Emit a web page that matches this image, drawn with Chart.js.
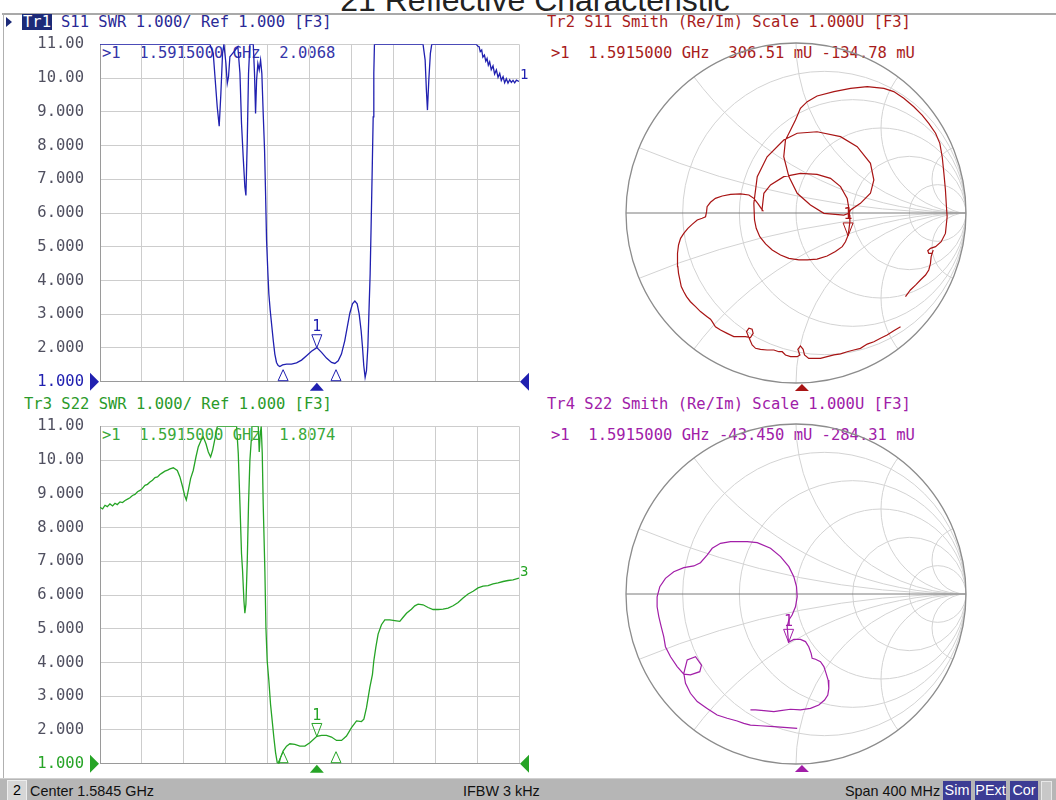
<!DOCTYPE html>
<html>
<head>
<meta charset="utf-8">
<script src="https://cdn.jsdelivr.net/npm/chart.js"></script>
<style>
  body { margin: 0; width: 1056px; height: 800px; position: relative; overflow: hidden; background: #fff; }
  canvas { position: absolute; }
  .m { position: absolute; white-space: pre; font-family: 'DejaVu Sans Mono', monospace; font-size: 15.5px; line-height: 16px; }
  .sb { position: absolute; top: 0; line-height: 22px; font-family: 'Liberation Sans', Arial, sans-serif; font-size: 14.4px; color: #111; white-space: pre; }
  .box { position: absolute; top: 2px; height: 19px; line-height: 19px; text-align: center; font-family: 'Liberation Sans', Arial, sans-serif; font-size: 14.4px; }
</style>
</head>
<body>

<div style="position:absolute;left:535px;top:-16px;transform:translateX(-50%);font-family:'Liberation Sans',Arial,sans-serif;font-size:32px;line-height:32px;color:#222;white-space:pre">21 Reflective Characteristic</div>
<div style="position:absolute;left:2px;top:13px;width:1054px;height:2px;background:#a9a9a9"></div>
<div style="position:absolute;left:3px;top:13px;width:1px;height:765px;background:#b0b0b0"></div>

<!-- trace headers -->
<div style="position:absolute;left:6px;top:17px;width:0;height:0;border-top:5px solid transparent;border-bottom:5px solid transparent;border-left:6px solid #1c2a78"></div>
<div class="m" style="left:22px;top:14px;background:#1c2a78;color:#fff;padding:0 1px">Tr1</div>
<div class="m" style="left:61px;top:14px;color:#2a2a96">S11 SWR 1.000/ Ref 1.000 [F3]</div>
<div class="m" style="left:102px;top:45px;color:#3535a8">&gt;1  1.5915000 GHz  2.0068</div>

<div class="m" style="left:24px;top:396px;color:#2a9a2a">Tr3 S22 SWR 1.000/ Ref 1.000 [F3]</div>
<div class="m" style="left:102px;top:427px;color:#3aa83a">&gt;1  1.5915000 GHz  1.8074</div>

<div class="m" style="left:547px;top:14px;color:#a81c1c">Tr2 S11 Smith (Re/Im) Scale 1.000U [F3]</div>
<div class="m" style="left:551px;top:45px;color:#a81c1c">&gt;1  1.5915000 GHz  306.51 mU -134.78 mU</div>

<div class="m" style="left:547px;top:396px;color:#a020a8">Tr4 S22 Smith (Re/Im) Scale 1.000U [F3]</div>
<div class="m" style="left:551px;top:427px;color:#a020a8">&gt;1  1.5915000 GHz -43.450 mU -284.31 mU</div>

<canvas id="swr1" width="532" height="388" style="left:0;top:19px"></canvas>
<canvas id="swr3" width="532" height="388" style="left:0;top:401px"></canvas>
<canvas id="smith2" width="360" height="360" style="left:616px;top:33px"></canvas>
<canvas id="smith4" width="360" height="360" style="left:616px;top:414px"></canvas>

<!-- status bar -->
<div style="position:absolute;left:0;top:778px;width:1056px;height:22px;background:#b6b6b6;border-top:1px solid #d0d0d0">
  <div class="box" style="left:7px;width:18px;background:#d6d6d6;border:1px solid #eee;top:1px">2</div>
  <div class="sb" style="left:30px;top:1px">Center 1.5845 GHz</div>
  <div class="sb" style="left:463px;top:1px">IFBW 3 kHz</div>
  <div class="sb" style="left:845px;top:1px">Span 400 MHz</div>
  <div class="box" style="left:943px;width:28px;background:#3c3c94;color:#fff">Sim</div>
  <div class="box" style="left:975px;width:31px;background:#3c3c94;color:#fff">PExt</div>
  <div class="box" style="left:1010px;width:28px;background:#3c3c94;color:#fff">Cor</div>
  <div class="box" style="left:1041px;width:9px;background:#c8c8c8;border:1px solid #e8e8e8"></div>
</div>

<script>
// sweep: center 1584.5 MHz, span 400 MHz
const fStart = 1384.5;
const fStop = 1784.5;
const freqGrid = [1384.5, 1424.5, 1464.5, 1504.5, 1544.5, 1584.5, 1624.5, 1664.5, 1704.5, 1744.5, 1784.5];
const swrTicks = [1, 2, 3, 4, 5, 6, 7, 8, 9, 10, 11];
const markerFreq = 1591.5;
const auxFreqs = [1559.3, 1609.8];

// Tr1 S11 SWR (MHz / SWR, clipped at 11 like the analyzer)
const s11Freq = [
  1384.5, 1438.6, 1489.4, 1492.6, 1494.5, 1496.4, 1498.3, 1499.9, 1501.5, 1502.8,
  1504.7, 1506.0, 1507.2, 1508.5, 1511.1, 1513.6, 1516.1, 1518.1, 1519.6, 1521.2,
  1522.8, 1523.8, 1525.1, 1526.3, 1527.6, 1530.8, 1532.0, 1533.0, 1534.0, 1535.2,
  1536.5, 1537.8, 1539.0, 1540.3, 1541.6, 1542.5, 1543.5, 1544.8, 1545.7, 1547.0,
  1548.3, 1549.9, 1551.4, 1553.0, 1554.6, 1556.2, 1558.8, 1562.6, 1567.3, 1572.1,
  1576.9, 1581.7, 1586.4, 1591.5, 1596.0, 1600.7, 1605.5, 1608.7, 1611.9, 1615.0,
  1618.2, 1620.5, 1623.0, 1625.5, 1627.8, 1630.0, 1631.9, 1633.8, 1635.1, 1636.3,
  1637.6, 1638.9, 1640.2, 1641.4, 1642.4, 1643.3, 1644.3, 1645.3, 1645.9, 1646.5,
  1692.9, 1694.9, 1696.1, 1697.1, 1698.4, 1699.9, 1701.2, 1743.8, 1745.0, 1746.4,
  1747.5, 1748.9, 1750.0, 1751.5, 1752.8, 1754.0, 1755.2, 1756.5, 1758.0, 1759.7,
  1761.2, 1762.9, 1764.5, 1766.1, 1767.6, 1769.3, 1770.8, 1772.4, 1774.0, 1775.6,
  1777.2, 1778.8, 1780.4, 1782.0, 1784.5
];
const s11Swr = [
  11, 11, 11, 10.73, 9.94, 9.15, 8.57, 9.54, 10.73, 11,
  10.44, 9.84, 10.04, 10.63, 10.73, 10.83, 10.93, 10.14, 8.65, 7.66,
  6.77, 6.52, 8.16, 10.14, 11, 11, 10.14, 8.95, 9.94, 10.43,
  10.24, 10.53, 10.14, 8.95, 7.86, 6.67, 5.19, 4.20, 3.60, 3.11,
  2.71, 2.22, 1.82, 1.57, 1.48, 1.45, 1.50, 1.52, 1.52, 1.56,
  1.64, 1.77, 1.90, 2.01, 1.87, 1.70, 1.57, 1.54, 1.62, 1.82,
  2.22, 2.61, 3.03, 3.31, 3.39, 3.31, 3.01, 2.51, 2.02, 1.48,
  1.13, 1.33, 2.02, 3.21, 4.20, 5.58, 7.17, 8.85, 10.14, 11,
  11, 10.53, 9.64, 9.05, 9.94, 10.73, 11, 11, 10.95, 10.93,
  10.78, 10.83, 10.62, 10.68, 10.50, 10.58, 10.38, 10.48, 10.25, 10.36,
  10.12, 10.24, 10.02, 10.14, 9.93, 10.04, 9.86, 9.98, 9.85, 9.95,
  9.87, 9.93, 9.86, 9.94, 9.90
];

// Tr3 S22 SWR
const s22Freq = [
  1384.5, 1387.0, 1389.3, 1391.5, 1394.0, 1396.5, 1398.8, 1401.0, 1403.6, 1406.0,
  1408.4, 1410.8, 1413.1, 1415.5, 1417.9, 1420.3, 1422.7, 1425.0, 1427.4, 1429.8,
  1432.2, 1434.6, 1437.0, 1439.4, 1441.7, 1444.0, 1446.5, 1449.0, 1451.3, 1454.5,
  1458.3, 1460.8, 1463.4, 1465.3, 1466.9, 1468.8, 1471.0, 1473.5, 1476.1, 1478.3,
  1480.9, 1483.1, 1485.6, 1487.9, 1490.1, 1492.0, 1494.2, 1496.4, 1497.4, 1514.9,
  1516.5, 1518.1, 1519.6, 1520.6, 1521.9, 1522.8, 1523.8, 1525.1, 1526.3, 1527.6,
  1528.9, 1529.5, 1535.6, 1536.5, 1537.5, 1538.4, 1539.4, 1540.3, 1541.9, 1542.9,
  1544.1, 1545.7, 1547.3, 1548.9, 1550.5, 1552.1, 1553.7, 1555.3, 1556.9, 1559.4,
  1562.6, 1565.8, 1570.5, 1575.3, 1580.1, 1584.8, 1591.5, 1596.0, 1600.7, 1605.5,
  1610.3, 1615.1, 1619.8, 1624.6, 1629.4, 1634.1, 1636.4, 1638.9, 1642.1, 1644.6,
  1645.9, 1647.8, 1650.0, 1653.2, 1656.4, 1661.2, 1665.9, 1670.7, 1673.9, 1677.1,
  1681.8, 1685.0, 1688.2, 1692.9, 1697.7, 1702.5, 1707.3, 1712.0, 1716.8, 1721.6,
  1726.4, 1731.1, 1735.9, 1740.7, 1745.4, 1750.2, 1755.0, 1759.7, 1764.5, 1769.3,
  1774.1, 1778.8, 1784.5
];
const s22Swr = [
  8.60, 8.55, 8.66, 8.62, 8.70, 8.64, 8.72, 8.68, 8.76, 8.74,
  8.80, 8.84, 8.88, 8.95, 8.98, 9.06, 9.10, 9.16, 9.25, 9.28,
  9.35, 9.40, 9.48, 9.50, 9.57, 9.62, 9.67, 9.70, 9.74, 9.77,
  9.69, 9.50, 9.20, 8.95, 8.82, 9.10, 9.45, 9.69, 10.09, 10.39,
  10.58, 10.68, 10.49, 10.24, 10.09, 10.29, 10.63, 10.98, 11, 11,
  10.19, 8.70, 7.22, 6.72, 5.83, 5.46, 5.73, 7.02, 8.70, 9.99,
  10.58, 11, 11, 10.24, 10.78, 11, 10.19, 8.70, 6.72, 5.04,
  4.05, 3.46, 2.76, 2.27, 1.77, 1.33, 1.03, 1.00, 1.18, 1.38,
  1.52, 1.59, 1.57, 1.52, 1.52, 1.62, 1.81, 1.84, 1.84, 1.79,
  1.69, 1.69, 1.82, 2.07, 2.27, 2.25, 2.32, 2.66, 3.26, 3.65,
  4.05, 4.45, 4.84, 5.12, 5.26, 5.26, 5.24, 5.22, 5.34, 5.46,
  5.58, 5.68, 5.73, 5.71, 5.63, 5.57, 5.57, 5.58, 5.61, 5.68,
  5.78, 5.91, 6.03, 6.11, 6.21, 6.26, 6.28, 6.33, 6.36, 6.40,
  6.43, 6.45, 6.50
];

// Tr2 S11 Smith, reflection coefficient (Re, Im)
const s11Re = [
  0.615, 0.575, 0.536, 0.497, 0.458, 0.419, 0.379, 0.340, 0.301, 0.262,
  0.223, 0.183, 0.144, 0.105, 0.075, 0.050, 0.042, 0.026, 0.011, 0.023,
  0.007, -0.032, -0.062, -0.081, -0.101, -0.130, -0.170, -0.209, -0.238, -0.258,
  -0.277, -0.291, -0.277, -0.258, -0.252, -0.268, -0.297, -0.326, -0.366, -0.405,
  -0.444, -0.474, -0.493, -0.503, -0.523, -0.562, -0.591, -0.621, -0.644, -0.660,
  -0.675, -0.683, -0.691, -0.695, -0.699, -0.695, -0.691, -0.679, -0.660, -0.636,
  -0.611, -0.581, -0.552, -0.532, -0.526, -0.523, -0.503, -0.474, -0.434, -0.385,
  -0.326, -0.277, -0.248, -0.225, -0.209, -0.195, -0.199,
  -0.189, -0.150, -0.072, 0.026, 0.124, 0.203, 0.262, 0.301, 0.311, 0.315,
  0.317, 0.311, 0.305, 0.291, 0.272, 0.232, 0.183, 0.124, 0.066, 0.017,
  -0.042, -0.091, -0.140, -0.179, -0.213, -0.234, -0.244, -0.248, -0.228, -0.170,
  -0.072, 0.007, 0.124, 0.262, 0.360, 0.438, 0.458, 0.438, 0.379, 0.321,
  0.311, 0.281, 0.164, 0.085, 0.007, -0.042, -0.072, -0.062, -0.032, -0.003,
  0.026, 0.066, 0.124, 0.223, 0.321, 0.419, 0.517, 0.575, 0.634, 0.693,
  0.742, 0.781, 0.821, 0.846, 0.860, 0.870, 0.879, 0.885, 0.889, 0.879,
  0.854, 0.821, 0.791, 0.775, 0.781, 0.801, 0.807, 0.795, 0.791, 0.781,
  0.762, 0.732, 0.703, 0.673, 0.644
];
const s11Im = [
  -0.669, -0.692, -0.718, -0.737, -0.757, -0.771, -0.796, -0.806, -0.816, -0.829,
  -0.835, -0.845, -0.855, -0.855, -0.855, -0.835, -0.802, -0.782, -0.802, -0.835,
  -0.845, -0.845, -0.835, -0.816, -0.816, -0.806, -0.806, -0.802, -0.796, -0.776,
  -0.733, -0.698, -0.678, -0.684, -0.708, -0.733, -0.727, -0.727, -0.727, -0.708,
  -0.688, -0.669, -0.639, -0.625, -0.610, -0.580, -0.551, -0.522, -0.492, -0.463,
  -0.433, -0.394, -0.355, -0.316, -0.276, -0.237, -0.188, -0.149, -0.120, -0.090,
  -0.067, -0.041, -0.031, -0.022, 0.008, 0.037, 0.063, 0.086, 0.100, 0.110,
  0.112, 0.106, 0.086, 0.057, 0.033, 0.014, 0.027,
  0.116, 0.165, 0.214, 0.233, 0.227, 0.204, 0.155, 0.086, 0.027, -0.012,
  -0.051, -0.100, -0.135, -0.169, -0.198, -0.227, -0.253, -0.271, -0.276, -0.276,
  -0.267, -0.247, -0.218, -0.182, -0.139, -0.090, -0.041, 0.057, 0.214, 0.331,
  0.429, 0.469, 0.478, 0.449, 0.390, 0.292, 0.194, 0.116, 0.057, 0.018,
  -0.002, -0.012, -0.002, 0.047, 0.116, 0.214, 0.331, 0.429, 0.488, 0.547,
  0.616, 0.655, 0.688, 0.714, 0.733, 0.743, 0.733, 0.714, 0.675, 0.625,
  0.576, 0.527, 0.469, 0.410, 0.331, 0.233, 0.135, 0.037, -0.022, -0.120,
  -0.169, -0.198, -0.208, -0.222, -0.237, -0.237, -0.218, -0.257, -0.296, -0.335,
  -0.365, -0.394, -0.424, -0.453, -0.492
];

// Tr4 S22 Smith
const s22Re = [
  0.007, -0.130, -0.209, -0.268, -0.307, -0.346, -0.405, -0.464, -0.523, -0.581,
  -0.621, -0.650, -0.660, -0.640, -0.591, -0.556, -0.566, -0.621, -0.660, -0.699,
  -0.738, -0.768, -0.778, -0.793, -0.807, -0.817, -0.817, -0.801, -0.768, -0.719,
  -0.660, -0.601, -0.562, -0.523, -0.493, -0.444, -0.385, -0.287, -0.228, -0.150,
  -0.091, -0.042, -0.013, 0.003, 0.007, -0.003, -0.023, -0.042, -0.052, -0.044,
  -0.013, 0.026, 0.056, 0.075, 0.089, 0.095, 0.115, 0.144, 0.164, 0.177,
  0.189, 0.193, 0.187, 0.168, 0.134, 0.085, 0.026, -0.032, -0.091, -0.130,
  -0.189, -0.238, -0.268
];
const s22Im = [
  -0.790, -0.780, -0.775, -0.771, -0.761, -0.747, -0.731, -0.712, -0.673, -0.633,
  -0.584, -0.525, -0.467, -0.388, -0.369, -0.418, -0.457, -0.476, -0.471, -0.427,
  -0.369, -0.310, -0.251, -0.192, -0.133, -0.075, -0.016, 0.043, 0.092, 0.131,
  0.155, 0.165, 0.184, 0.229, 0.269, 0.298, 0.308, 0.308, 0.302, 0.269,
  0.220, 0.161, 0.102, 0.043, -0.016, -0.075, -0.124, -0.153, -0.192, -0.284,
  -0.267, -0.267, -0.280, -0.310, -0.349, -0.378, -0.384, -0.398, -0.427, -0.467,
  -0.506, -0.555, -0.594, -0.624, -0.653, -0.673, -0.682, -0.678, -0.686, -0.692,
  -0.686, -0.682, -0.682
];

const s11Marker = [0.30651, -0.13478];
const s22Marker = [-0.04345, -0.28431];

// Smith grid: constant resistance circles and reactance arcs
const smithR = [0.2, 0.5, 1, 2, 5];
const smithX = [0.2, 0.5, 1, 2, 5];

const MONO = "'DejaVu Sans Mono', monospace";

const swrMarks = {
    id: 'swrMarks',
    afterDatasetsDraw(chart, args, o) {
        const { ctx, chartArea: a, scales: { x, y } } = chart;
        ctx.save();
        ctx.strokeStyle = o.color;
        ctx.fillStyle = o.color;
        ctx.lineWidth = 1;

        // marker 1 sitting on the trace
        const mx = x.getPixelForValue(markerFreq), my = y.getPixelForValue(o.mkVal);
        ctx.beginPath();
        ctx.moveTo(mx, my); ctx.lineTo(mx - 5, my - 13); ctx.lineTo(mx + 5, my - 13); ctx.closePath();
        ctx.stroke();
        ctx.font = '15px ' + MONO;
        ctx.textAlign = 'center';
        ctx.textBaseline = 'bottom';
        ctx.fillText('1', mx, my - 13);

        // other markers on the bottom edge
        auxFreqs.forEach(f => {
            const px = x.getPixelForValue(f);
            ctx.beginPath();
            ctx.moveTo(px - 5, a.bottom - 1); ctx.lineTo(px + 5, a.bottom - 1); ctx.lineTo(px, a.bottom - 12); ctx.closePath();
            ctx.stroke();
        });

        // stimulus indicator under the grid
        ctx.beginPath();
        ctx.moveTo(mx - 7, a.bottom + 9); ctx.lineTo(mx + 7, a.bottom + 9); ctx.lineTo(mx, a.bottom + 1); ctx.closePath();
        ctx.fill();

        // reference level arrows
        const ry = y.getPixelForValue(1);
        ctx.beginPath();
        ctx.moveTo(a.left - 10, ry - 9); ctx.lineTo(a.left - 10, ry + 9); ctx.lineTo(a.left - 1, ry); ctx.closePath();
        ctx.fill();
        ctx.beginPath();
        ctx.moveTo(a.right + 10, ry - 9); ctx.lineTo(a.right + 10, ry + 9); ctx.lineTo(a.right + 1, ry); ctx.closePath();
        ctx.fill();

        // trace number at the end of the sweep
        const d = chart.data.datasets[0].data;
        ctx.font = '14px ' + MONO;
        ctx.textAlign = 'left';
        ctx.textBaseline = 'middle';
        ctx.fillText(o.label, a.right + 1, y.getPixelForValue(d[d.length - 1].y) - 6);
        ctx.restore();
    }
};

const smithPlug = {
    id: 'smithPlug',
    beforeDatasetsDraw(chart) {
        const { ctx, scales: { x, y } } = chart;
        const cx = x.getPixelForValue(0), cy = y.getPixelForValue(0);
        const R = x.getPixelForValue(1) - cx;
        ctx.save();
        ctx.beginPath();
        ctx.arc(cx, cy, R, 0, 2 * Math.PI);
        ctx.clip();
        ctx.strokeStyle = '#d3d3d3';
        ctx.lineWidth = 1;
        smithR.forEach(r => {
            ctx.beginPath();
            ctx.arc(x.getPixelForValue(r / (1 + r)), cy, R / (1 + r), 0, 2 * Math.PI);
            ctx.stroke();
        });
        smithX.forEach(v => {
            [v, -v].forEach(s => {
                ctx.beginPath();
                ctx.arc(x.getPixelForValue(1), y.getPixelForValue(1 / s), R / v, 0, 2 * Math.PI);
                ctx.stroke();
            });
        });
        ctx.restore();

        ctx.save();
        ctx.strokeStyle = '#7a7a7a';
        ctx.lineWidth = 1;
        ctx.beginPath();
        ctx.moveTo(cx - R, cy); ctx.lineTo(cx + R, cy);
        ctx.stroke();
        ctx.strokeStyle = '#8c8c8c';
        ctx.lineWidth = 1.3;
        ctx.beginPath();
        ctx.arc(cx, cy, R, 0, 2 * Math.PI);
        ctx.stroke();
        ctx.restore();
    },
    afterDatasetsDraw(chart, args, o) {
        const { ctx, chartArea: a, scales: { x, y } } = chart;
        ctx.save();
        ctx.strokeStyle = o.color;
        ctx.fillStyle = o.color;
        ctx.lineWidth = 1;
        const mx = x.getPixelForValue(o.mk[0]), my = y.getPixelForValue(o.mk[1]);
        ctx.beginPath();
        ctx.moveTo(mx, my); ctx.lineTo(mx - 5, my - 13); ctx.lineTo(mx + 5, my - 13); ctx.closePath();
        ctx.stroke();
        ctx.font = '15px ' + MONO;
        ctx.textAlign = 'center';
        ctx.textBaseline = 'bottom';
        ctx.fillText('1', mx, my - 13);

        const sx = a.left + (markerFreq - fStart) / (fStop - fStart) * (a.right - a.left);
        ctx.beginPath();
        ctx.moveTo(sx - 7, a.bottom + 8); ctx.lineTo(sx + 7, a.bottom + 8); ctx.lineTo(sx, a.bottom + 1); ctx.closePath();
        ctx.fill();
        ctx.restore();
    }
};

function swrChart(id, freq, swr, color, mkVal, label) {
    const gridCfg = { color: '#cdcdcd', drawTicks: false };
    return new Chart(document.getElementById(id), {
        type: 'scatter',
        data: {
            datasets: [{
                data: freq.map((f, i) => ({ x: f, y: swr[i] })),
                showLine: true,
                borderColor: color,
                borderWidth: 1.3,
                pointRadius: 0,
                tension: 0
            }]
        },
        options: {
            animation: false,
            responsive: false,
            devicePixelRatio: 1,
            events: [],
            layout: { padding: { top: 10, bottom: 10, left: 0, right: 13 } },
            plugins: {
                legend: { display: false },
                tooltip: { enabled: false },
                swrMarks: { color, mkVal, label }
            },
            scales: {
                x: {
                    type: 'linear', min: fStart, max: fStop,
                    afterBuildTicks: s => { s.ticks = freqGrid.map(v => ({ value: v })); },
                    afterFit: s => { s.height = 0; },
                    ticks: { display: false },
                    grid: gridCfg,
                    border: { color: '#9a9a9a' }
                },
                y: {
                    min: 1, max: 11,
                    afterBuildTicks: s => { s.ticks = swrTicks.map(v => ({ value: v })); },
                    afterFit: s => { s.width = 100; },
                    ticks: {
                        padding: 16,
                        font: { family: 'DejaVu Sans Mono', size: 15.5 },
                        color: c => (c.tick && c.tick.value === 1) ? color : '#505060',
                        callback: v => v >= 10 ? v.toFixed(2) : v.toFixed(3)
                    },
                    grid: gridCfg,
                    border: { color: '#9a9a9a' }
                }
            }
        },
        plugins: [swrMarks]
    });
}

function smithChart(id, re, im, color, mk) {
    return new Chart(document.getElementById(id), {
        type: 'scatter',
        data: {
            datasets: [{
                data: re.map((r, i) => ({ x: r, y: im[i] })),
                showLine: true,
                borderColor: color,
                borderWidth: 1.2,
                pointRadius: 0,
                tension: 0
            }]
        },
        options: {
            animation: false,
            responsive: false,
            devicePixelRatio: 1,
            events: [],
            layout: { padding: 10 },
            plugins: {
                legend: { display: false },
                tooltip: { enabled: false },
                smithPlug: { color, mk }
            },
            scales: {
                x: { type: 'linear', min: -1, max: 1, display: false },
                y: { type: 'linear', min: -1, max: 1, display: false }
            }
        },
        plugins: [smithPlug]
    });
}

swrChart('swr1', s11Freq, s11Swr, '#2020b0', 2.0068, '1');
swrChart('swr3', s22Freq, s22Swr, '#26a426', 1.8074, '3');
smithChart('smith2', s11Re, s11Im, '#a81414', s11Marker);
smithChart('smith4', s22Re, s22Im, '#a21ea8', s22Marker);
</script>
</body>
</html>
